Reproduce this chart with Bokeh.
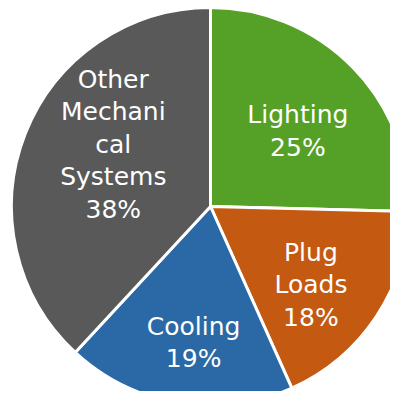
import math
from bokeh.plotting import figure
from bokeh.models import Range1d, ColumnDataSource
from bokeh.core.properties import value
from bokeh.embed import file_html
from bokeh.resources import INLINE

# data
categories = ["Lighting", "Plug\nLoads", "Cooling", "Other\nMechani\ncal\nSystems"]
shares = [25.4, 17.9, 18.6, 38.1]
colors = ["#55A128", "#C45911", "#2A69A5", "#595959"]

# layout / style
W, H = 390, 391
cx, cy, R = 210, 185, 199
label_frac = [0.58, 0.64, 0.69, 0.58]
label_nudge = [-3.5, -4.3, 2.3, -11.2]

total = sum(shares)
starts, ends, lx, ly, texts = [], [], [], [], []
a = 90.0
for i, v in enumerate(shares):
    span = v / total * 360.0
    s, e = a, a - span
    starts.append(math.radians(e))
    ends.append(math.radians(s))
    mid = (s + e) / 2 + label_nudge[i]
    lx.append(cx + label_frac[i] * R * math.cos(math.radians(mid)))
    ly.append(cy + label_frac[i] * R * math.sin(math.radians(mid)))
    texts.append(f"{categories[i]}\n{v:.0f}%")
    a = e

src = ColumnDataSource(dict(x=[cx] * len(shares), y=[cy] * len(shares),
                            start=starts, end=ends, color=colors))
lsrc = ColumnDataSource(dict(x=lx, y=ly, text=texts))

p = figure(width=W, height=H, x_range=Range1d(0, W), y_range=Range1d(0, H),
           output_backend="svg", toolbar_location=None, min_border=0)
p.axis.visible = False
p.grid.visible = False
p.outline_line_color = None
p.background_fill_color = "white"

p.wedge(x="x", y="y", radius=R, start_angle="start", end_angle="end",
        fill_color="color", line_color="white", line_width=3, source=src)
p.text(x="x", y="y", text="text", source=lsrc, text_color="white",
       text_font=value("DejaVu Sans"), text_font_size="25px",
       text_align="center", text_baseline="middle", text_line_height=1.12)

open("out.html", "w").write(file_html(p, INLINE))
